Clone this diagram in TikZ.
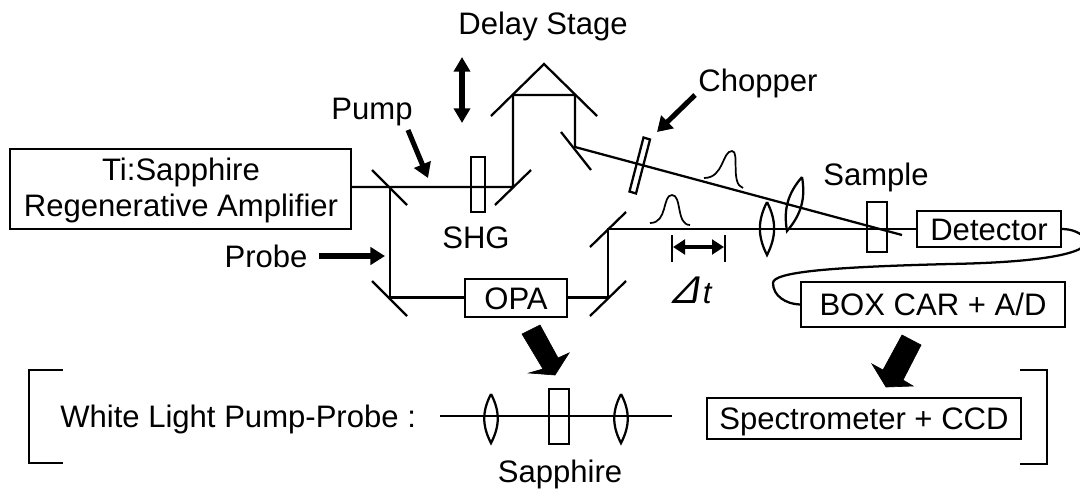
\documentclass[tikz,border=0pt]{standalone}
\usepackage{fontspec}
\setmainfont{Liberation Sans}
\newfontfamily\slantf[FakeSlant=0.55]{Liberation Sans}
\usetikzlibrary{arrows.meta,calc}
\tikzset{
  beam/.style={line width=1.7pt,black},
  boxn/.style={draw,line width=1.7pt,inner sep=0pt,align=center},
  capbox/.style={boxn,text height=16.7pt,text depth=0pt},
  lbl/.style={inner sep=0pt,align=center},
  thickarrow/.style={line width=3.8pt,-{Triangle[length=11pt,width=13pt]}},
  dblarrow/.style={line width=3.8pt,{Triangle[length=11pt,width=12pt]}-{Triangle[length=11pt,width=12pt]}},
  tarrow/.style={line width=3.2pt,{Triangle[length=9pt,width=11pt]}-{Triangle[length=9pt,width=11pt]}},
  bigarrow/.style={fill=black,draw=black,line width=0.5pt,line join=miter},
  optic/.style={line width=1.7pt},
  every node/.style={font=\fontsize{23.3}{27}\selectfont}
}
\newcommand{\lensshape}[3]{% top, bottom, bulge vector
  \draw[optic,line join=miter] (#1) .. controls ($(#1)!0.35!(#2)+#3$) and ($(#1)!0.65!(#2)+#3$) .. (#2)
     .. controls ($(#1)!0.65!(#2)-#3$) and ($(#1)!0.35!(#2)-#3$) .. (#1);}
\begin{document}
\begin{tikzpicture}[x=0.75pt,y=-0.75pt]
\useasboundingbox (0,0) rectangle (1080,490);
% boxes
\node[boxn,minimum width=255.75pt,minimum height=60pt] (ti) at (180.5,189) {};
\node[lbl] (titext) at (181,190) {Ti:Sapphire\\Regenerative Amplifier};
\node[capbox,minimum width=76.5pt,minimum height=28.5pt] (opa) at (516,298) {OPA};
\node[capbox,minimum width=108pt,minimum height=27pt] (det) at (989,229) {Detector};
\node[capbox,minimum width=198pt,minimum height=33.75pt] (box) at (933,304.5) {BOX CAR + A/D};
\node[capbox,minimum width=235.5pt,minimum height=30.75pt] (spec) at (864,418.5) {Spectrometer + CCD};
% beam coordinates
\coordinate (m1) at (390,187);
\coordinate (m2) at (390,297.5);
\coordinate (m3) at (608,297.5);
\coordinate (m4) at (608,229);
\coordinate (m5) at (513,187);
\coordinate (r1) at (513,95);
\coordinate (r2) at (575,95);
\coordinate (m6) at (575,147);
\coordinate (bend) at (902,235);
% beams
\draw[beam] (ti.east |- m1) -- (m5) -- (r1) -- (r2) -- (m6) -- (bend);
\draw[beam] (m1) -- (m2) -- (opa.west |- m2);
\draw[beam] (opa.east |- m3) -- (m3) -- (m4) -- (det.west |- m4);
% mirrors
\draw[optic] (372,170) -- (407,205);
\draw[optic] (372,281) -- (407,316);
\draw[optic] (590,316) -- (626,281);
\draw[optic] (590,247) -- (626,212);
\draw[optic] (495,205) -- (531,170);
\draw[optic] (561,132) -- (591,170);
\draw[optic,line join=miter] (491,116) -- (544,64) -- (597,116);
% plates
\draw[optic] (471,157) rectangle (485,212);
\draw[optic] (643.5,137.5) -- (650,139.5) -- (636,193.5) -- (629.5,191.5) -- cycle;
\draw[optic] (867,202) rectangle (887,252);
% lenses
\lensshape{767,202}{767,255}{(9.5,0)}
\lensshape{802,177}{787,231}{(9,2.5)}
% pulses
\draw[line width=1.3pt] (650,223) .. controls (668,223) and (662,195) .. (672,195) .. controls (682,195) and (676,225) .. (690,225);
\draw[line width=1.3pt] (704,178) .. controls (724,178) and (722,151) .. (732,151) .. controls (740,151) and (730,184) .. (743,188);
% delta t
\draw[line width=1.5pt] (672,235) -- (672,262);
\draw[line width=1.5pt] (725,235) -- (725,262);
\coordinate (tl) at (673,247);
\coordinate (tr) at (724,247);
\draw[tarrow] (tl) -- (tr);
% cable
\begin{scope}
\clip (0,0) rectangle (1080,490);
\draw[line width=1.7pt] (det.east) .. controls (1072,229) and (1082,233) .. (1086,240)
  .. controls (1090,250) and (1060,262) .. (950,264)
  .. controls (830,267) and (773,272) .. (773,283)
  .. controls (773,296) and (786,304) .. (box.west);
\end{scope}
% annotation arrows
\coordinate (s1) at (462,57); \coordinate (s2) at (462,123);
\draw[dblarrow] (s1) -- (s2);
\coordinate (p1) at (408,130); \coordinate (p2) at (428,178);
\draw[thickarrow] (p1) -- (p2);
\coordinate (c1) at (695,95); \coordinate (c2) at (657,132);
\draw[thickarrow] (c1) -- (c2);
\coordinate (q1) at (319,256); \coordinate (q2) at (385,256);
\draw[thickarrow] (q1) -- (q2);
% big arrows
\draw[bigarrow] (522,334) -- (540,325) -- (558,358) -- (569,353) -- (555,375) -- (529,373) -- (543,369) -- cycle;
\draw[bigarrow] (902,335) -- (921,345) -- (903,380) -- (913,386) -- (886,387) -- (872,364) -- (883,370) -- cycle;
% brackets
\draw[optic,line join=miter] (63,370) -- (29,370) -- (29,463) -- (63,463);
\draw[optic,line join=miter] (1020,370) -- (1047,370) -- (1047,464) -- (1020,464);
% lower line
\coordinate (w1) at (440,416); \coordinate (w2) at (672,416);
\draw[beam] (w1) -- (w2);
\lensshape{491,394}{491,443}{(9,0)}
\lensshape{621,394}{621,443}{(9,0)}
\draw[optic] (549,389) rectangle (569,444);
% labels
\node[lbl] (delay) at (543,26) {Delay Stage};
\node[lbl] (chop) at (758,83) {Chopper};
\node[lbl] (pump) at (372,112) {Pump};
\node[lbl] (sample) at (876,177) {Sample};
\node[lbl] (shg) at (476,238) {SHG};
\node[lbl] (probe) at (266,256) {Probe};
\node[lbl,anchor=base west] (dt) at (670,303) {{\slantf\fontsize{29}{32}\selectfont Δ}\kern5pt{\itshape t}};
\node[lbl,anchor=west] (wl) at (60,419) {White Light Pump-Probe :};
\node[lbl] (sap) at (560,474) {Sapphire};
\end{tikzpicture}
\end{document}
